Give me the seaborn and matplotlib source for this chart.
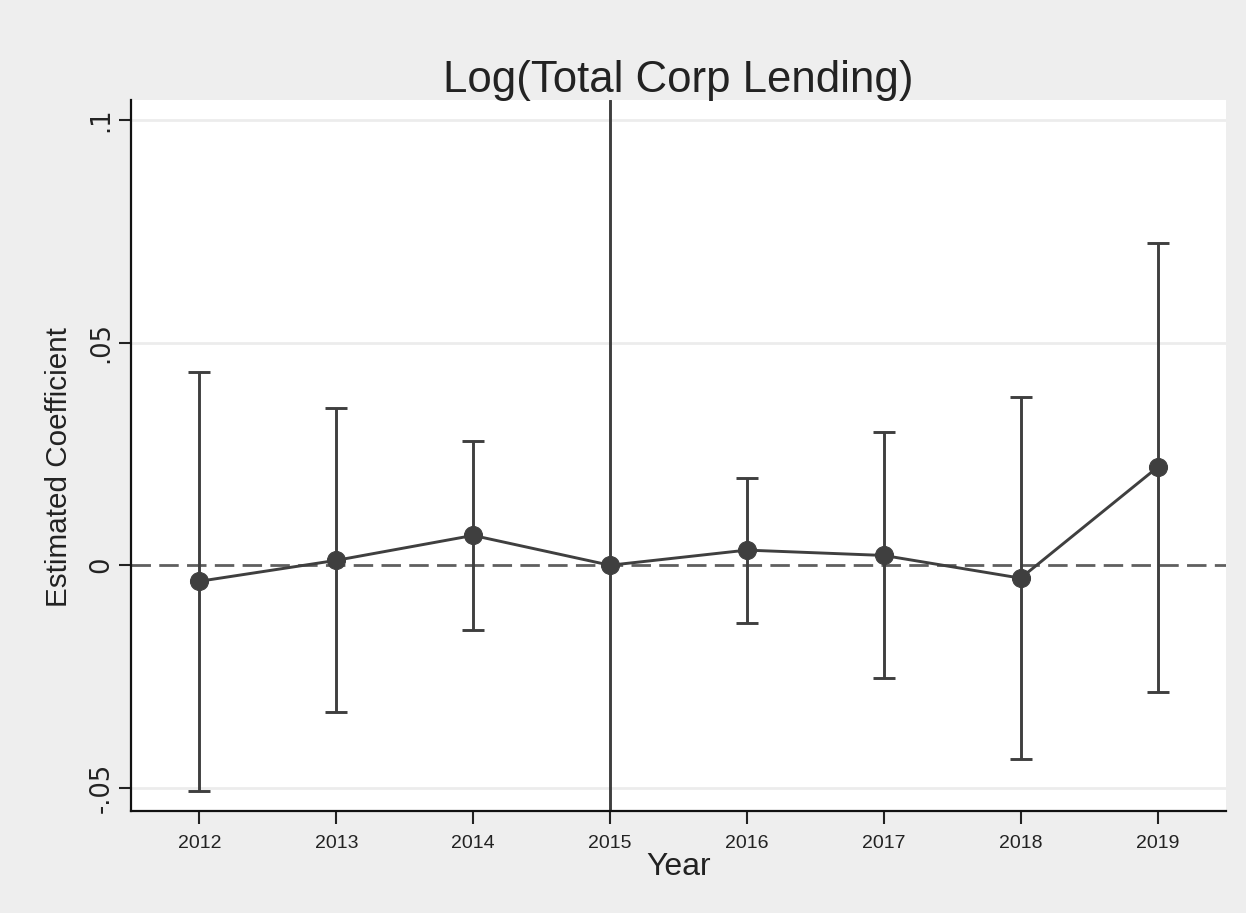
import numpy as np
import pandas as pd
import matplotlib
matplotlib.use("Agg")
import matplotlib.pyplot as plt
import seaborn as sns

# values
years = [2012, 2013, 2014, 2015, 2016, 2017, 2018, 2019]
coef = [-0.0036, 0.0011, 0.0067, 0.0, 0.0034, 0.0022, -0.0029, 0.0220]
ci_low = [-0.0507, -0.0330, -0.0146, np.nan, -0.0130, -0.0253, -0.0435, -0.0285]
ci_high = [0.0435, 0.0354, 0.0280, np.nan, 0.0195, 0.0300, 0.0377, 0.0724]
ytick_vals = [-0.05, 0, 0.05, 0.1]
ytick_labels = ["-.05", "0", ".05", ".1"]

df = pd.DataFrame({"year": years, "coef": coef, "lo": ci_low, "hi": ci_high})

sns.set_style("white")
plt.rcParams["font.family"] = ["Liberation Sans", "DejaVu Sans"]

fig = plt.figure(figsize=(12.46, 9.13), dpi=100, facecolor="#eeeeee")
ax = fig.add_axes([0.1051, 0.1117, 0.8788, 0.7788])
ax.set_facecolor("white")

dark = "#3f3f3f"
lw = 2.1

# horizontal grid
for v in [-0.05, 0.05, 0.1]:
    ax.axhline(v, color="#ececec", lw=2, zorder=0)

ax.axhline(0, color="#5f5f5f", lw=2, ls=(0, (7, 3)), zorder=1)
ax.axvline(2015, color=dark, lw=lw, zorder=1)

# confidence intervals
err = df.dropna()
ax.errorbar(err["year"], err["coef"],
            yerr=[err["coef"] - err["lo"], err["hi"] - err["coef"]],
            fmt="none", ecolor=dark, elinewidth=lw, capsize=8, capthick=lw,
            zorder=2)

sns.lineplot(data=df, x="year", y="coef", ax=ax, color=dark, lw=lw,
             marker="o", markersize=13, markeredgecolor=dark, zorder=3)

ax.set_xlim(2011.5, 2019.5)
ax.set_ylim(-0.0552, 0.1045)
ax.set_xticks(years)
ax.set_xticklabels([str(y) for y in years], fontsize=14, color="#222222")
ax.set_yticks(ytick_vals)
ax.set_yticklabels(ytick_labels, fontsize=18.5, rotation=90, va="center",
                   color="#222222", family="DejaVu Sans")
ax.tick_params(axis="both", length=9, width=1.5, color="#222222",
               direction="out", left=True, bottom=True)
ax.tick_params(axis="x", pad=8)
ax.tick_params(axis="y", pad=3)

for s in ["top", "right"]:
    ax.spines[s].set_visible(False)
for s in ["left", "bottom"]:
    ax.spines[s].set_color("#111111")
    ax.spines[s].set_linewidth(1.6)

ax.set_xlabel("Year", fontsize=23, color="#222222", labelpad=0)
ax.set_ylabel("Estimated Coefficient", fontsize=21.3, color="#222222")
ax.yaxis.set_label_coords(-0.053, 0.484)
ax.set_title("Log(Total Corp Lending)", fontsize=31.5, color="#222222", pad=6)

fig.savefig("out.png", dpi=100, facecolor=fig.get_facecolor())
